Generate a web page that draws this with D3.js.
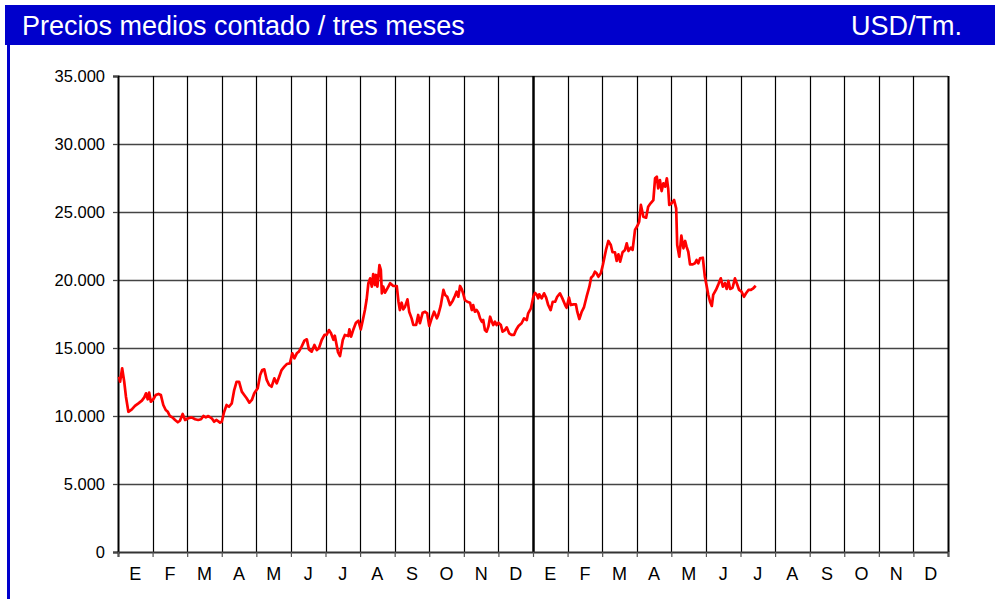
<!DOCTYPE html>
<html>
<head>
<meta charset="utf-8">
<script src="https://cdn.jsdelivr.net/npm/d3@7"></script>
<style>
  body { margin: 0; background: #fff; }
  svg { display: block; font-family: "Liberation Sans", Arial, sans-serif; }
</style>
</head>
<body>
<svg id="chart" width="995" height="599"></svg>
<script>
// month labels (two years, Spanish initials)
var months = ["E","F","M","A","M","J","J","A","S","O","N","D",
              "E","F","M","A","M","J","J","A","S","O","N","D"];
var yTicks = [0, 5000, 10000, 15000, 20000, 25000, 30000, 35000];

// position in months from start of first January
var monthPos = [
  0.03,0.06,0.12,0.18,0.23,0.30,0.40,0.49,0.59,0.69,0.76,0.81,0.86,0.90,0.95,
  1.02,1.09,1.17,1.24,1.31,1.38,1.44,1.50,1.57,1.65,1.73,1.79,1.87,1.94,
  2.03,2.13,2.23,2.32,2.40,2.47,2.54,2.61,2.71,2.78,2.85,2.95,
  3.00,3.07,3.14,3.21,3.29,3.36,3.43,3.50,3.58,3.65,3.72,3.80,3.87,3.94,
  4.04,4.11,4.17,4.23,4.30,4.37,4.44,4.52,4.59,4.66,4.73,4.81,4.88,4.97,
  5.04,5.10,5.17,5.23,5.31,5.39,5.46,5.52,5.60,5.68,5.75,5.81,5.89,5.97,
  6.03,6.10,6.16,6.23,6.27,6.36,6.42,6.50,6.56,6.66,6.69,6.74,6.80,6.88,6.95,
  7.02,7.08,7.14,7.19,7.24,7.29,7.34,7.38,7.43,7.46,7.50,7.56,7.60,7.63,7.67,7.72,7.79,7.87,7.96,
  8.06,8.11,8.15,8.20,8.25,8.30,8.37,8.42,8.49,8.54,8.62,8.68,8.73,8.81,8.88,8.94,
  9.00,9.07,9.14,9.22,9.26,9.33,9.41,9.46,9.52,9.60,9.68,9.74,9.79,9.84,9.89,9.94,9.98,
  10.03,10.10,10.18,10.23,10.27,10.32,10.37,10.42,10.47,10.52,10.56,10.61,10.66,10.71,10.76,10.81,10.85,10.90,10.95,
  11.00,11.07,11.12,11.19,11.24,11.31,11.38,11.45,11.51,11.58,11.67,11.74,11.82,11.86,11.94,
  12.01,12.06,12.11,12.15,12.18,12.25,12.32,12.38,12.44,12.51,12.57,12.64,12.70,12.78,12.85,12.93,12.97,
  13.04,13.09,13.17,13.24,13.28,13.34,13.41,13.47,13.55,13.63,13.68,13.74,13.79,13.84,13.89,13.96,
  14.02,14.05,14.11,14.18,14.25,14.30,14.37,14.42,14.47,14.52,14.59,14.66,14.71,14.76,14.83,14.88,14.95,
  15.02,15.07,15.12,15.19,15.27,15.33,15.40,15.48,15.53,15.58,15.62,15.67,15.72,15.77,15.82,15.87,15.91,15.94,
  16.01,16.08,16.14,16.17,16.23,16.29,16.35,16.40,16.44,16.49,16.54,16.62,16.68,16.73,16.78,16.83,16.91,16.97,
  17.02,17.07,17.12,17.17,17.21,17.29,17.36,17.43,17.49,17.55,17.60,17.65,17.70,17.77,17.84,17.91,17.96,
  18.03,18.10,18.16,18.23,18.30,18.37,18.44
];
// USD/Tm.
var prices = [
  12890,12520,13510,12520,11420,10310,10490,10740,10930,11130,11370,11670,11230,11720,11050,
  11230,11540,11620,11540,10810,10440,10310,10000,9900,9710,9540,9650,10150,9710,
  9830,9900,9760,9710,9760,10000,9900,10000,9830,9580,9710,9510,
  9580,10310,10810,10680,10930,11910,12520,12520,11790,11540,11300,10980,11180,11670,
  12040,13010,13380,13430,12650,12280,12150,12770,12400,12890,13380,13630,13820,13870,
  14610,14240,14610,14730,15100,15540,15640,14900,14730,15220,14850,14980,15590,15960,
  15960,16320,16080,15600,15900,14700,14410,15590,15960,15880,16370,15830,16320,16860,17010,
  16370,17060,17790,18580,19760,20120,19510,20440,19630,20370,19510,21100,20740,19020,19510,19070,19390,19760,19560,
  19560,18400,17790,18330,17840,18040,18580,17670,17180,16690,16690,17430,16820,17600,17670,17550,
  16620,17180,17670,17180,17430,18090,19270,18900,18770,18160,18480,18820,19140,18770,19560,19320,19020,
  18530,18400,18330,17790,18160,17670,17790,17600,17180,16930,17060,16320,16200,16570,17300,16930,16690,16930,16690,
  16860,16690,16200,16320,16520,16080,15960,15960,16320,16620,16820,17180,17060,17550,17920,
  18770,19050,18900,18650,18950,18650,19020,18700,18160,17790,18400,18400,18770,19020,18650,18160,17960,
  18700,18160,18210,18210,17670,17130,17670,17960,18770,19510,20170,20320,20610,20490,20240,20490,
  21100,21470,22210,22870,22570,22040,22040,21400,21890,21350,22040,22210,22700,22130,22380,22210,23680,
  23990,24290,25520,24660,24580,25390,25640,25880,27480,27600,26740,27350,26540,27110,26860,27480,26690,25520,
  25640,25880,25270,22570,21710,23260,22330,22870,22450,22080,21150,21150,21230,21470,21230,21590,21640,20240,
  19580,18900,18400,18090,18900,19270,19680,20120,19510,19760,19340,19930,19340,19430,20120,19630,19270,
  19140,18770,19020,19270,19270,19390,19580
];

var W = 995, H = 599;
var mLeft = 118, mRight = 948, mTop = 76, mBottom = 552;

var svg = d3.select("#chart");

// title bar
svg.append("rect").attr("x", 5).attr("y", 5).attr("width", W - 5).attr("height", 40)
  .attr("fill", "#0000cc");
svg.append("rect").attr("x", 7).attr("y", 45).attr("width", 3).attr("height", H - 45)
  .attr("fill", "#0000cc");
svg.append("text").attr("x", 22).attr("y", 35)
  .attr("fill", "#fff").attr("font-size", "27px")
  .text("Precios medios contado / tres meses");
svg.append("text").attr("x", 962).attr("y", 35)
  .attr("fill", "#fff").attr("font-size", "27px").attr("text-anchor", "end")
  .text("USD/Tm.");

var x = d3.scaleLinear().domain([0, months.length]).range([mLeft, mRight]);
var y = d3.scaleLinear().domain([0, 35000]).range([mBottom, mTop]);

var plot = svg.append("g");

// horizontal grid
plot.selectAll("line.hgrid")
  .data(yTicks.filter(function(d) { return d > 0; }))
  .enter().append("line")
  .attr("class", "hgrid")
  .attr("x1", mLeft).attr("x2", mRight)
  .attr("y1", function(d) { return Math.round(y(d)) + 0.5; })
  .attr("y2", function(d) { return Math.round(y(d)) + 0.5; })
  .attr("stroke", "#444").attr("stroke-width", 1.3);

// vertical month lines
var bounds = d3.range(1, months.length + 1);
plot.selectAll("line.vgrid")
  .data(bounds)
  .enter().append("line")
  .attr("class", "vgrid")
  .attr("x1", function(d) { return Math.round(x(d)) + 0.5; })
  .attr("x2", function(d) { return Math.round(x(d)) + 0.5; })
  .attr("y1", mTop).attr("y2", mBottom)
  .attr("stroke", "#000")
  .attr("stroke-width", function(d) { return d == 12 ? 2.5 : (d == months.length ? 2 : 1.2); });

// y axis
var yAxis = d3.axisLeft(y).tickValues(yTicks).tickSize(5).tickPadding(8)
  .tickFormat(function(d) { return d == 0 ? "0" : d3.format(",")(d).replace(/,/g, "."); });
var gy = svg.append("g").attr("transform", "translate(" + mLeft + ",0)").call(yAxis);
gy.select(".domain").attr("stroke", "#000").attr("stroke-width", 2);
gy.selectAll(".tick line").attr("stroke", "#444").attr("stroke-width", 1.3);
gy.selectAll("text").attr("font-size", "16.5px").attr("fill", "#000")
  .attr("font-family", "Liberation Sans, Arial, sans-serif");

// x axis with ticks at month boundaries, labels centered
var xAxis = d3.axisBottom(x).tickValues(d3.range(0, months.length + 1)).tickSize(5).tickFormat("");
var gx = svg.append("g").attr("transform", "translate(0," + mBottom + ")").call(xAxis);
gx.select(".domain").attr("stroke", "#333").attr("stroke-width", 2);
gx.selectAll(".tick line").attr("stroke", "#555").attr("stroke-width", 1.2);

svg.selectAll("text.month")
  .data(months)
  .enter().append("text")
  .attr("class", "month")
  .attr("x", function(d, i) { return x(i + 0.5); })
  .attr("y", 580)
  .attr("text-anchor", "middle")
  .attr("font-size", "18px")
  .attr("fill", "#000")
  .text(function(d) { return d; });

// price line
var line = d3.line()
  .x(function(d, i) { return x(monthPos[i]); })
  .y(function(d) { return y(d); });

svg.append("path")
  .datum(prices)
  .attr("d", line)
  .attr("fill", "none")
  .attr("stroke", "#ff0000")
  .attr("stroke-width", 2.7)
  .attr("stroke-linejoin", "round");
</script>
</body>
</html>
